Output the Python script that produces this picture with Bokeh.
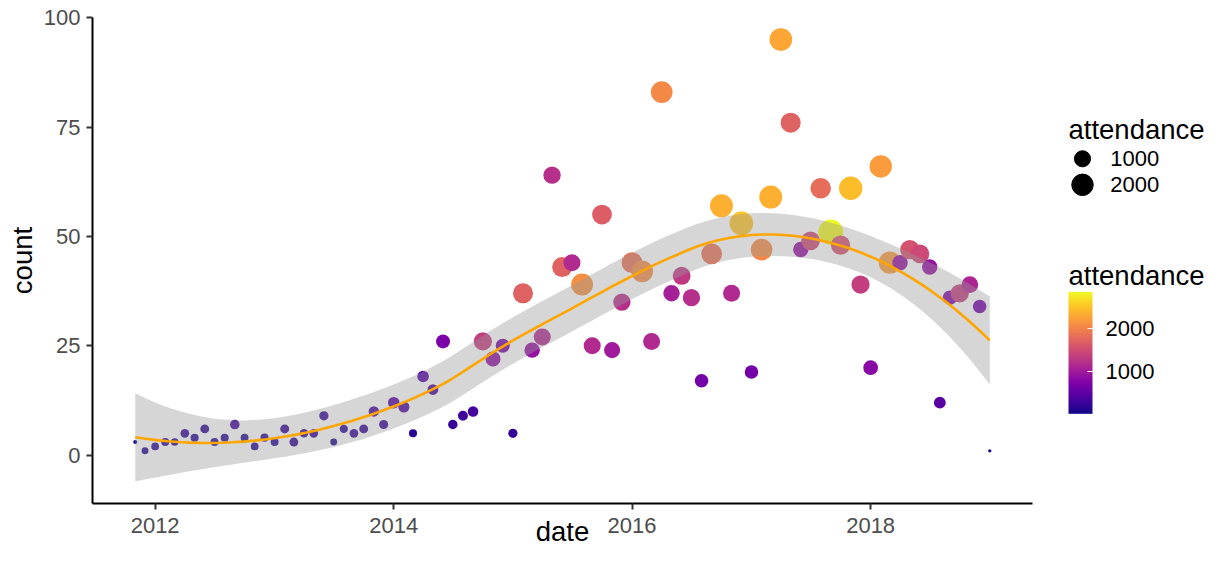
import numpy as np
import pandas as pd
from bokeh.plotting import figure
from bokeh.models import (ColumnDataSource, Range1d, FixedTicker, DatetimeTickFormatter,
                          LinearColorMapper, ColorBar)
from bokeh.palettes import Plasma256
from bokeh.layouts import row
from bokeh.embed import file_html
from bokeh.resources import INLINE
from bokeh.core.properties import value

# ---------------- data ----------------
months = pd.date_range("2011-11-01", "2019-01-01", freq="MS")   # 87 monthly points

count = [3, 1,
         2, 3, 3, 5, 4, 6, 3, 4, 7, 4, 2, 4,
         3, 6, 3, 5, 5, 9, 3, 6, 5, 6, 10, 7,
         12, 11, 5, 18, 15, 26, 7, 9, 10, 26, 22, 25,
         5, 37, 24, 27, 64, 43, 44, 39, 25, 55, 24, 35,
         44, 42, 26, 83, 37, 41, 36, 17, 46, 57, 37, 53,
         19, 47, 59, 95, 76, 47, 49, 61, 51, 48, 61, 39,
         20, 66, 44, 44, 47, 46, 43, 12, 36, 37, 39, 34,
         1]

attendance = [15, 90,
              130, 140, 120, 190, 150, 200, 140, 150, 250, 140, 130, 150,
              140, 210, 200, 180, 190, 230, 90, 160, 190, 200, 320, 210,
              420, 380, 150, 420, 350, 700, 240, 280, 330, 1350, 850, 720,
              220, 1700, 900, 1150, 1200, 1700, 1150, 2100, 1150, 1650, 1000, 1200,
              1850, 2050, 1150, 2050, 1050, 1300, 1200, 650, 1850, 2350, 1150, 2500,
              650, 2050, 2350, 2280, 1700, 900, 1450, 1800, 2850, 1550, 2450, 1350,
              800, 2200, 2200, 900, 1550, 1450, 900, 450, 750, 1350, 1100, 650,
              12]

x_tick_years = [2012, 2014, 2016, 2018]
y_ticks = [0, 25, 50, 75, 100]
size_breaks = [1000, 2000]
color_breaks = [1000, 2000]

FONT = "Liberation Sans"

# ---------------- loess smooth (like geom_smooth, span 0.75, degree 2) ----------------
x_ms = (months.astype("int64") // 10**6).to_numpy().astype(float)
y = np.asarray(count, dtype=float)
xd = (x_ms - x_ms[0]) / 86400000.0
n = len(xd)
q = int(np.floor(n * 0.75))


def lrow(x0):
    d = np.abs(xd - x0)
    h = np.sort(d)[q - 1]
    u = np.clip(d / h, 0, 1)
    w = (1 - u ** 3) ** 3
    X = np.column_stack([np.ones(n), xd - x0, (xd - x0) ** 2])
    XtW = X.T * w
    return np.linalg.solve(XtW @ X, XtW)[0]


def t975(df):
    z = 1.959963984540054
    g1 = (z ** 3 + z) / 4
    g2 = (5 * z ** 5 + 16 * z ** 3 + 3 * z) / 96
    g3 = (3 * z ** 7 + 19 * z ** 5 + 17 * z ** 3 - 15 * z) / 384
    return z + g1 / df + g2 / df ** 2 + g3 / df ** 3


L = np.array([lrow(v) for v in xd])
res = y - L @ y
IL = np.eye(n) - L
M = IL.T @ IL
d1 = np.trace(M)
d2 = np.trace(M @ M)
s = np.sqrt(np.sum(res ** 2) / d1)
grid = np.linspace(xd.min(), xd.max(), 80)
Lg = np.array([lrow(v) for v in grid])
fit = Lg @ y
se = s * np.sqrt(np.sum(Lg ** 2, axis=1))
tq = t975(d1 ** 2 / d2)
lo = fit - tq * se
hi = fit + tq * se
grid_ms = x_ms[0] + grid * 86400000.0

# ---------------- scales ----------------
att = np.asarray(attendance, dtype=float)
amin, amax = att.min(), att.max()


def size_px(a):
    t = (np.asarray(a, dtype=float) - amin) / (amax - amin)
    return 3.3 + 21.7 * np.sqrt(np.clip(t, 0, 1))


mapper = LinearColorMapper(palette=Plasma256, low=amin, high=amax)

src = ColumnDataSource(dict(x=x_ms, y=y, att=att, size=size_px(att)))

span = x_ms.max() - x_ms.min()
xr = Range1d(x_ms.min() - 0.05 * span, x_ms.max() + 0.05 * span)
yr = Range1d(-11.05, 100.05)

MAIN_W, LEG_W, H = 1038, 169, 553
LEFT, RIGHT, TOP, BOTTOM = 92, 6, 17, 50

p = figure(width=MAIN_W, height=H, x_range=xr, y_range=yr, x_axis_type="datetime",
           toolbar_location=None, output_backend="svg",
           min_border_left=LEFT, min_border_right=RIGHT, min_border_top=TOP,
           min_border_bottom=BOTTOM)
p.grid.visible = False
p.outline_line_color = None

p.scatter(x="x", y="y", size="size", source=src,
          fill_color={"field": "att", "transform": mapper}, line_color=None)
p.varea(x=grid_ms, y1=lo, y2=hi, fill_color="#999999", fill_alpha=0.4)
p.line(x=grid_ms, y=fit, line_color="#FFA500", line_width=2.6)

tick_ms = [pd.Timestamp(f"{yy}-01-01").value // 10**6 for yy in x_tick_years]
p.xaxis.ticker = FixedTicker(ticks=tick_ms)
p.xaxis.formatter = DatetimeTickFormatter(years="%Y", months="%Y", days="%Y", hours="%Y")
p.yaxis.ticker = FixedTicker(ticks=y_ticks)
p.xaxis.axis_label = "date"
p.yaxis.axis_label = "count"

for ax in (p.xaxis, p.yaxis):
    ax.axis_line_width = 2
    ax.axis_line_color = "black"
    ax.major_tick_line_width = 2
    ax.major_tick_line_color = "#333333"
    ax.major_tick_out = 6
    ax.major_tick_in = 0
    ax.minor_tick_line_color = None
    ax.major_label_text_font = FONT
    ax.major_label_text_font_size = "22px"
    ax.major_label_text_color = "#4d4d4d"
    ax.axis_label_text_font = FONT
    ax.axis_label_text_font_size = "27.5px"
    ax.axis_label_text_font_style = "normal"
    ax.axis_label_text_color = "black"

p.xaxis.major_label_standoff = 8
p.xaxis.axis_label_standoff = -20
p.yaxis.major_label_standoff = 6
p.yaxis.axis_label_standoff = 3

# ---------------- legend panel (data coords == canvas pixels) ----------------
leg = figure(width=LEG_W, height=H,
             x_range=Range1d(MAIN_W, MAIN_W + LEG_W), y_range=Range1d(H - BOTTOM, TOP),
             toolbar_location=None, output_backend="svg",
             x_axis_location=None, y_axis_location=None,
             min_border_left=0, min_border_right=0,
             min_border_top=TOP, min_border_bottom=BOTTOM)
leg.grid.visible = False
leg.outline_line_color = None

LX = 1068
leg.text(x=[LX, LX], y=[129.3, 275], text=["attendance", "attendance"],
         text_font=value(FONT), text_font_size="27.5px", text_baseline="alphabetic",
         text_color="black")
leg.scatter(x=[LX + 14, LX + 14], y=[158.3, 184.3], size=size_px(size_breaks),
            color="black")
leg.text(x=[LX + 41.7, LX + 41.7], y=[158.3, 184.3], text=[str(v) for v in size_breaks],
         text_font=value(FONT), text_font_size="22px", text_baseline="middle",
         text_color="black")

cb = ColorBar(color_mapper=mapper, location=(LX - MAIN_W, (H - BOTTOM) - 413.3),
              width=24, height=122, padding=0, ticker=FixedTicker(ticks=color_breaks),
              major_label_text_font=FONT, major_label_text_font_size="22px",
              major_label_text_color="black",
              label_standoff=13, major_tick_line_color="white", major_tick_line_width=1,
              major_tick_in=5, major_tick_out=0, minor_tick_line_color=None,
              bar_line_color=None, border_line_color=None, background_fill_alpha=0)
leg.add_layout(cb)

layout = row(p, leg)
open("out.html", "w").write(file_html(layout, INLINE))
